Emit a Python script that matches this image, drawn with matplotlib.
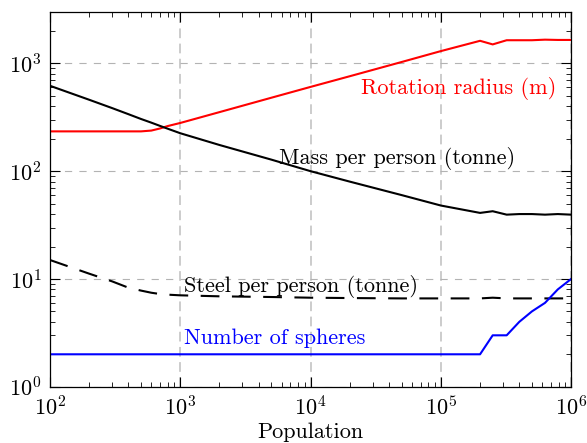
import numpy as np
import matplotlib
matplotlib.use("Agg")
import matplotlib.pyplot as plt

plt.rcParams['font.family'] = 'serif'
plt.rcParams['font.serif'] = ['cmr10', 'DejaVu Serif']
plt.rcParams['mathtext.fontset'] = 'cm'
plt.rcParams['axes.formatter.use_mathtext'] = True
plt.rcParams['font.size'] = 16

# population samples
population = [1e2, 2e2, 3e2, 4e2, 5e2, 6e2, 7e2, 8e2, 1e3, 2e3, 5e3, 1e4, 2e4,
              5e4, 1e5, 2e5, 2.5e5, 3.2e5, 4e5, 5e5, 6.3e5, 7.9e5, 1e6]

rotation_radius = [234, 234, 234, 234, 234, 238, 249, 262, 280, 353, 480, 605, 760,
                   1030, 1300, 1620, 1500, 1640, 1640, 1640, 1660, 1650, 1650]

mass_per_person = [620, 460, 385, 338, 305, 282, 263, 248, 225, 175, 128, 100, 80,
                   60, 48, 41, 42.5, 39.5, 40, 40, 39.5, 40, 39.5]

steel_per_person = [15, 11.2, 9.5, 8.3, 7.8, 7.45, 7.25, 7.15, 7.05, 6.9, 6.8, 6.7, 6.65,
                    6.6, 6.6, 6.6, 6.7, 6.6, 6.6, 6.6, 6.6, 6.6, 6.6]

n_spheres = [2, 2, 2, 2, 2, 2, 2, 2, 2, 2, 2, 2, 2,
             2, 2, 2, 3, 3, 4, 5, 6, 8, 10]

fig, ax = plt.subplots(figsize=(5.87, 4.43), dpi=100)
fig.subplots_adjust(left=0.085, right=0.973, top=0.973, bottom=0.127)

ax.plot(population, rotation_radius, color='red', lw=1.5)
ax.plot(population, mass_per_person, color='black', lw=1.5)
ax.plot(population, steel_per_person, color='black', lw=1.5, dashes=(9, 6))
ax.plot(population, n_spheres, color='blue', lw=1.5)

ax.set_xscale('log')
ax.set_yscale('log')
ax.set_xlim(1e2, 1e6)
ax.set_ylim(1, 3000)

ax.grid(True, axis='y', which='major', color='0.7', lw=0.8, dashes=(6.5, 6.5))
ax.grid(True, axis='x', which='major', color='0.8', lw=1.4, dashes=(5, 2.8))
ax.set_axisbelow(True)
ax.tick_params(which='both', direction='in', top=True, right=True)
ax.tick_params(which='major', length=7, width=0.8, pad=6)
ax.tick_params(which='minor', length=3.5, width=0.6)
for s in ax.spines.values():
    s.set_linewidth(0.9)

ax.text(7.7e5, 590, 'Rotation radius (m)', color='red', ha='right', va='center')
ax.text(5700, 132, 'Mass per person (tonne)', color='black', ha='left', va='center')
ax.text(1070, 8.5, 'Steel per person (tonne)', color='black', ha='left', va='center')
ax.text(1070, 2.84, 'Number of spheres', color='blue', ha='left', va='center')

ax.set_xlabel('Population', labelpad=2)

plt.savefig('out.png', dpi=100)
